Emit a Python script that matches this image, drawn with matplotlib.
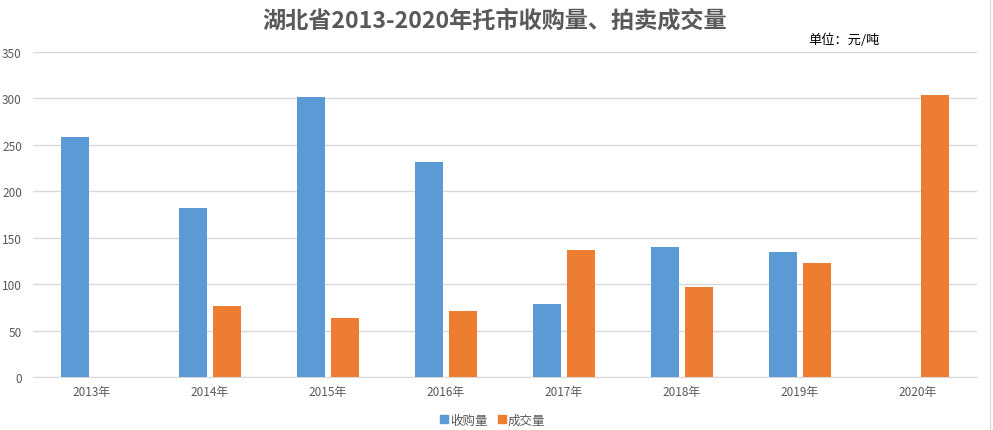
import matplotlib
matplotlib.use("Agg")
import matplotlib.pyplot as plt
import numpy as np
from matplotlib.lines import Line2D

plt.rcParams['font.family'] = ['Noto Sans CJK SC', 'DejaVu Sans']

years = ['2013年', '2014年', '2015年', '2016年', '2017年', '2018年', '2019年', '2020年']
purchase = [259, 182, 302, 232, 79, 140, 135, 0]
deal = [0, 77, 64, 71, 137, 97, 123, 304]
series_names = ['收购量', '成交量']
yticks = [0, 50, 100, 150, 200, 250, 300, 350]

blue = '#5B9BD5'
orange = '#ED7D31'
gray = '#595959'

fig = plt.figure(figsize=(9.93, 4.31), dpi=100)
W, H = 993, 431
ax = fig.add_axes([33 / W, (H - 378) / H, (977 - 33) / W, 325 / H])

x = np.arange(len(years))
bw = 0.229
off = 0.144
ax.bar(x - off, purchase, bw, color=blue, label=series_names[0], zorder=3)
ax.bar(x + off, deal, bw, color=orange, label=series_names[1], zorder=3)

ax.set_xlim(-0.5, len(years) - 0.5)
ax.set_ylim(0, 350)
ax.set_yticks(yticks)
ax.set_xticks(x)
ax.set_xticklabels(years)
ax.grid(axis='y', color='#D9D9D9', linewidth=1, zorder=0)
for s in ['top', 'right', 'left']:
    ax.spines[s].set_visible(False)
ax.spines['bottom'].set_color('#D9D9D9')
ax.tick_params(axis='both', length=0, colors=gray, labelsize=8.5)
ax.tick_params(axis='y', pad=8)
ax.tick_params(axis='x', pad=6)

fig.text(0.5 * (263 + 727) / W, 1 - 21 / H, '湖北省2013-2020年托市收购量、拍卖成交量',
         ha='center', va='center', fontsize=16.7, fontweight='bold', color=gray)
fig.text(808 / W, 1 - 40 / H, '单位：元/吨', ha='left', va='center', fontsize=9.5, color='black')

handles = [Line2D([], [], marker='s', linestyle='', markersize=6, color=blue),
           Line2D([], [], marker='s', linestyle='', markersize=6, color=orange)]
fig.legend(handles, series_names, loc='center', bbox_to_anchor=(0.495, 1 - 421 / H), ncol=2,
           frameon=False, fontsize=9, handletextpad=0.0, columnspacing=0.6,
           labelcolor=gray, handlelength=1.0)

fig.add_artist(Line2D([990 / W, 990 / W], [0, 1], transform=fig.transFigure, color='#D9D9D9', linewidth=1))

fig.savefig('out.png', dpi=100)
